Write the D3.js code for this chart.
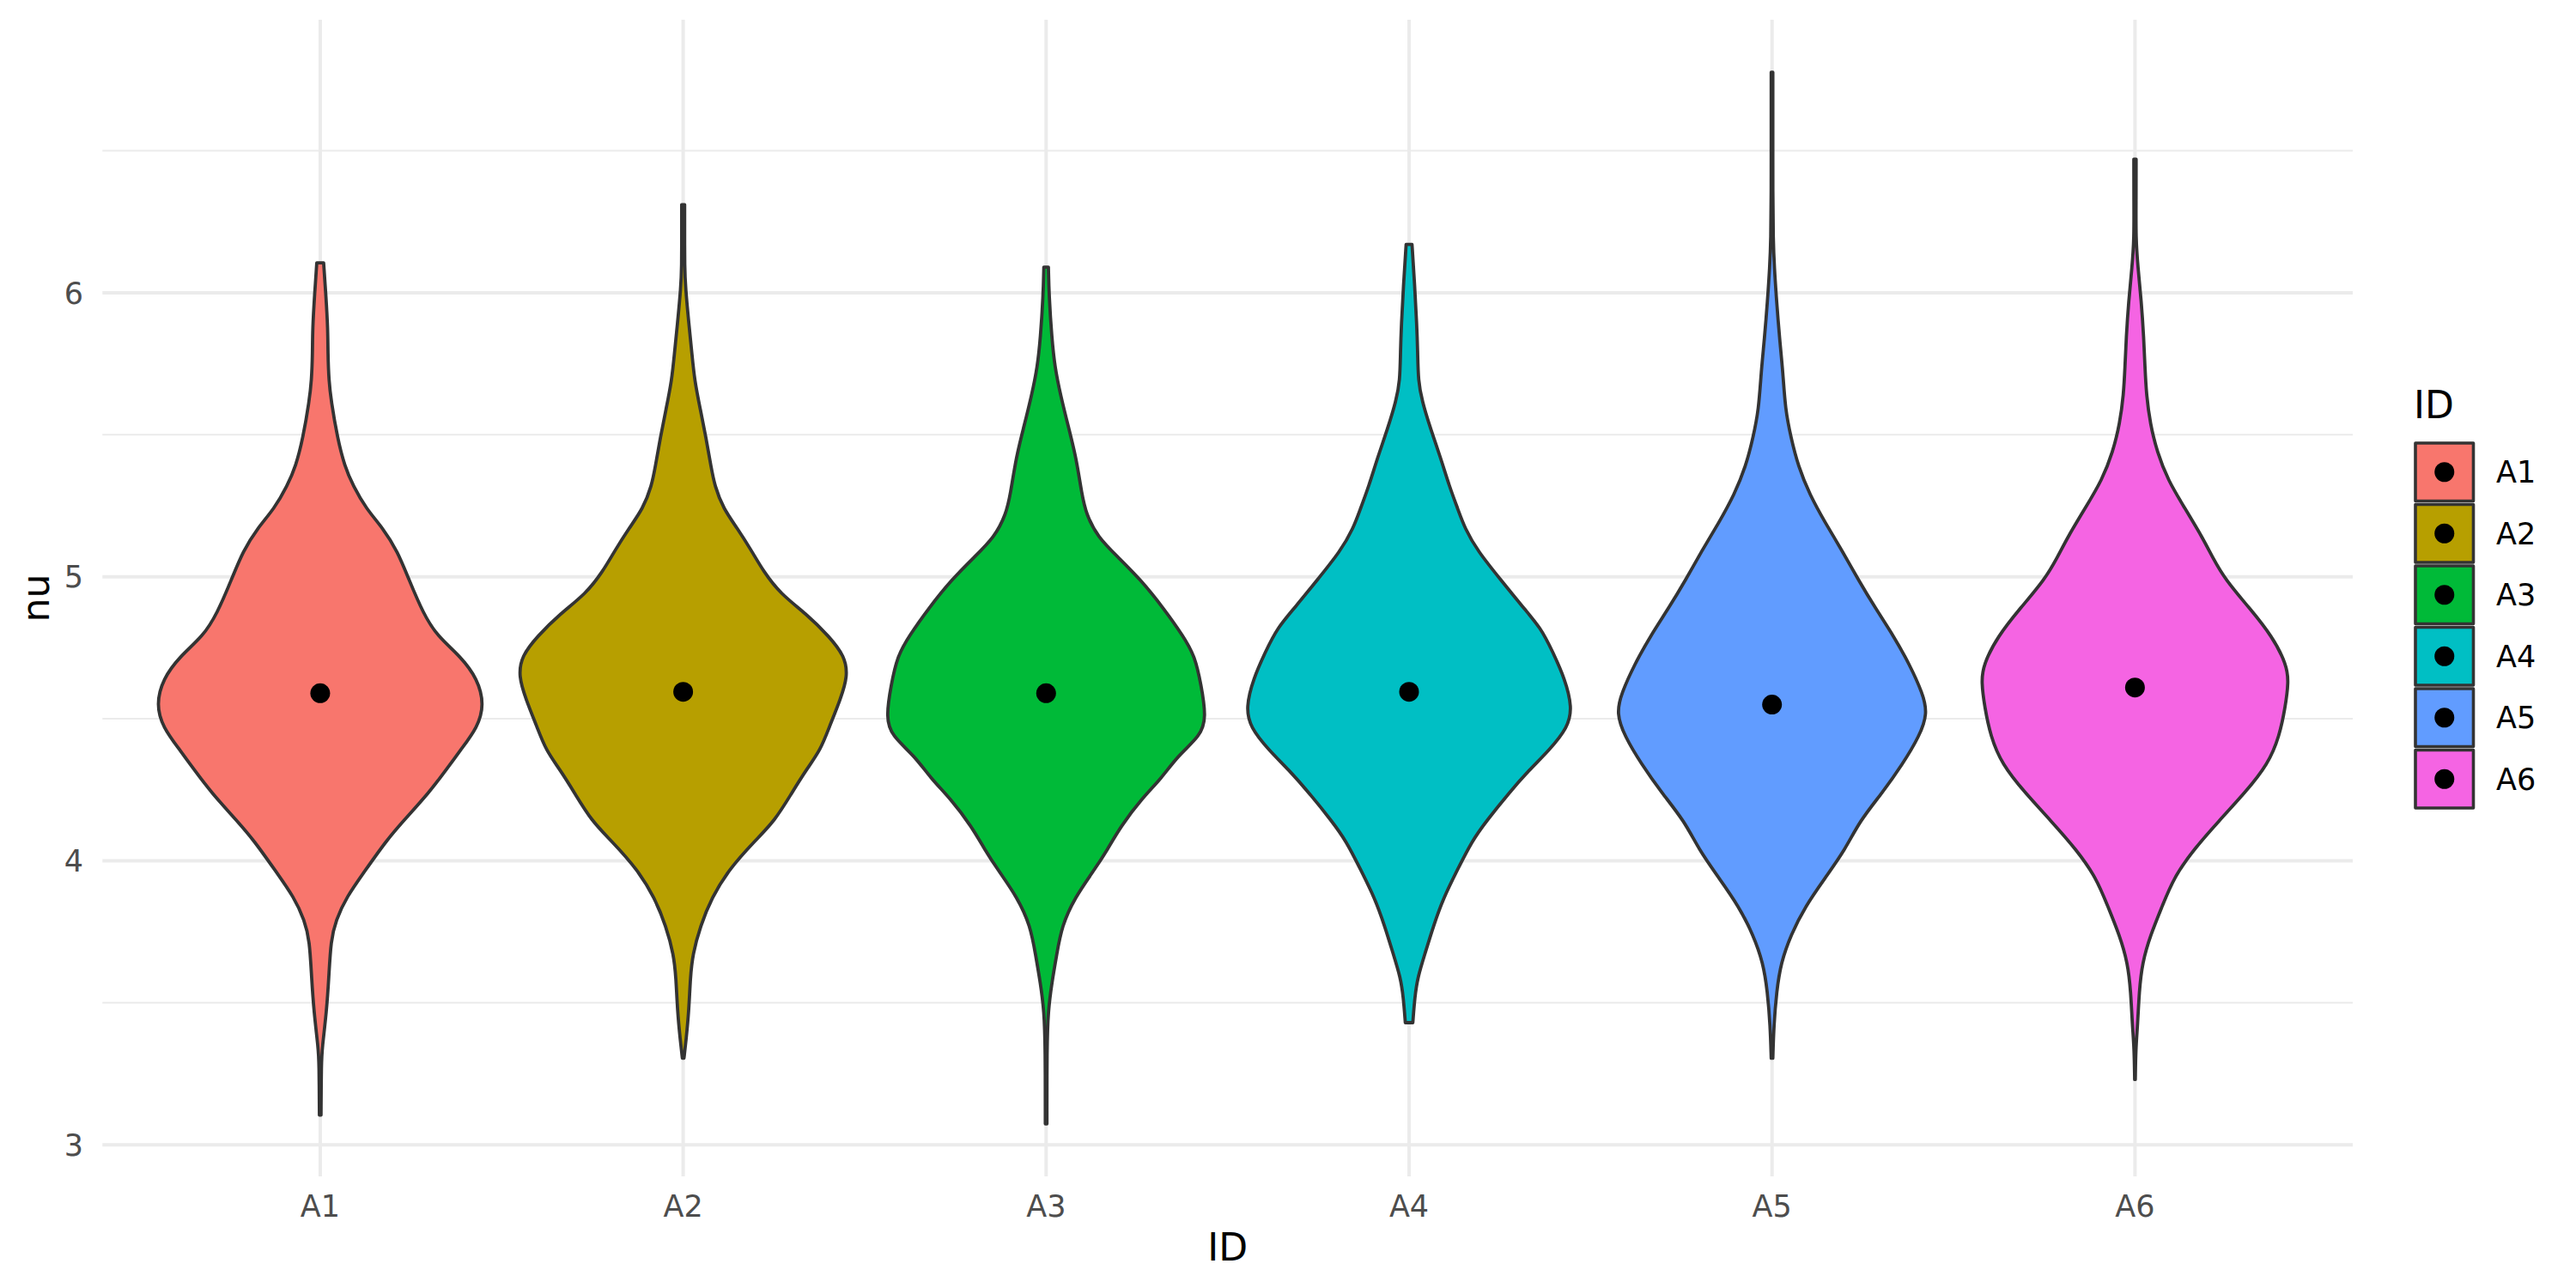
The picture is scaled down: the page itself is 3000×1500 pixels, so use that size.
<!DOCTYPE html>
<html><head><meta charset="utf-8">
<script src="https://cdn.jsdelivr.net/npm/d3@7"></script>
<style>html,body{margin:0;padding:0;background:#fff;}svg{display:block;font-family:"DejaVu Sans",sans-serif;}</style>
</head><body>
<svg id="chart" width="3000" height="1500"></svg>
<script>
// ---- data ----
const categories = ["A1","A2","A3","A4","A5","A6"];
const fills = ["#F8766D","#B79F00","#00BA38","#00BFC4","#619CFF","#F564E3"];
const means = [4.59, 4.595, 4.59, 4.595, 4.55, 4.61];
const yTicks = [3,4,5,6];
const yMinor = [3.5,4.5,5.5,6.5];

const nuA1 = [6.105,5.99,5.87,5.79,5.69,5.62,5.49,5.39,5.32,5.24,5.17,5.09,4.99,4.87,4.79,4.72,4.64,4.55,4.47,4.39,4.32,4.24,4.14,4.07,3.97,3.87,3.79,3.72,3.59,3.47,3.34,3.29,3.105];
const densA1 = [0.021,0.035,0.047,0.047,0.053,0.067,0.105,0.149,0.202,0.281,0.386,0.474,0.544,0.632,0.719,0.860,0.965,1.005,0.965,0.860,0.772,0.667,0.509,0.404,0.281,0.158,0.096,0.065,0.053,0.039,0.012,0.007,0.005];
const nuA2 = [6.31,6.22,6.09,6.02,5.89,5.79,5.69,5.59,5.49,5.39,5.32,5.24,5.17,5.09,5.02,4.94,4.87,4.79,4.72,4.65,4.57,4.47,4.39,4.32,4.24,4.14,4.07,3.97,3.87,3.77,3.67,3.59,3.47,3.37,3.305];
const densA2 = [0.009,0.009,0.009,0.014,0.035,0.053,0.070,0.105,0.140,0.170,0.193,0.246,0.333,0.421,0.491,0.596,0.754,0.895,0.991,1.009,0.965,0.895,0.842,0.754,0.667,0.561,0.439,0.281,0.175,0.105,0.058,0.044,0.035,0.018,0.005];
const nuA3 = [6.09,5.99,5.84,5.74,5.64,5.52,5.42,5.29,5.22,5.14,5.07,4.99,4.89,4.79,4.72,4.62,4.505,4.44,4.37,4.29,4.22,4.12,4.04,3.97,3.87,3.77,3.67,3.57,3.47,3.34,3.074];
const densA3 = [0.014,0.018,0.035,0.053,0.088,0.140,0.184,0.219,0.246,0.316,0.439,0.579,0.719,0.842,0.912,0.950,0.982,0.947,0.807,0.707,0.588,0.456,0.377,0.298,0.175,0.096,0.065,0.035,0.012,0.005,0.005];
const nuA4 = [6.17,6.02,5.89,5.79,5.69,5.62,5.52,5.42,5.32,5.24,5.17,5.09,4.99,4.89,4.82,4.74,4.64,4.54,4.47,4.39,4.32,4.24,4.14,4.07,3.97,3.87,3.77,3.67,3.59,3.52,3.43];
const densA4 = [0.018,0.035,0.047,0.053,0.056,0.079,0.132,0.193,0.246,0.298,0.342,0.421,0.561,0.702,0.807,0.877,0.956,1.0,0.974,0.860,0.737,0.614,0.474,0.386,0.298,0.211,0.149,0.096,0.053,0.035,0.023];
const nuA5 = [6.776,6.59,6.34,6.19,6.09,5.97,5.84,5.72,5.59,5.49,5.39,5.29,5.19,5.09,4.99,4.89,4.79,4.69,4.59,4.52,4.44,4.34,4.24,4.14,4.04,3.94,3.84,3.74,3.64,3.54,3.42,3.305];
const densA5 = [0.005,0.005,0.005,0.007,0.014,0.028,0.046,0.067,0.081,0.116,0.160,0.230,0.326,0.432,0.528,0.633,0.747,0.844,0.923,0.954,0.905,0.800,0.677,0.537,0.449,0.326,0.204,0.116,0.054,0.028,0.011,0.005];
const nuA6 = [6.47,6.34,6.19,6.09,5.97,5.84,5.74,5.64,5.54,5.44,5.34,5.24,5.14,5.07,4.99,4.89,4.79,4.69,4.63,4.54,4.44,4.34,4.24,4.14,4.04,3.94,3.84,3.74,3.64,3.54,3.42,3.34,3.23];
const densA6 = [0.007,0.007,0.005,0.018,0.039,0.054,0.061,0.070,0.093,0.135,0.202,0.307,0.412,0.474,0.553,0.702,0.842,0.930,0.942,0.921,0.886,0.816,0.675,0.514,0.360,0.237,0.167,0.096,0.044,0.026,0.016,0.005,0.002];

const nuList = [nuA1,nuA2,nuA3,nuA4,nuA5,nuA6];
const densList = [densA1,densA2,densA3,densA4,densA5,densA6];

// ---- layout ----
const panel = {left:119.3, right:2740, top:23, bottom:1370};
const svg = d3.select("#chart");
svg.append("rect").attr("width",3000).attr("height",1500).attr("fill","#fff");

const allNu = nuList.flat();
const [lo, hi] = d3.extent(allNu);
const pad = (hi - lo) * 0.05;
const y = d3.scaleLinear().domain([lo - pad, hi + pad]).range([panel.bottom, panel.top]);
const x = d3.scalePoint().domain(categories).range([panel.left, panel.right]).padding(0.6);
const w = d3.scaleLinear().domain([0,1]).range([0, 0.4495 * x.step()]);
const color = d3.scaleOrdinal().domain(categories).range(fills);

// grid
const grid = svg.append("g");
grid.selectAll("line.minor").data(yMinor).join("line")
  .attr("x1",panel.left).attr("x2",panel.right)
  .attr("y1",d=>y(d)).attr("y2",d=>y(d))
  .attr("stroke","#EBEBEB").attr("stroke-width",2);
grid.selectAll("line.major").data(yTicks).join("line")
  .attr("x1",panel.left).attr("x2",panel.right)
  .attr("y1",d=>y(d)).attr("y2",d=>y(d))
  .attr("stroke","#EBEBEB").attr("stroke-width",4);
grid.selectAll("line.vx").data(categories).join("line")
  .attr("x1",d=>x(d)).attr("x2",d=>x(d))
  .attr("y1",panel.top).attr("y2",panel.bottom)
  .attr("stroke","#EBEBEB").attr("stroke-width",4);

// violins
categories.forEach((c,i)=>{
  const pts = nuList[i].map((v,j)=>({nu:v, d:densList[i][j]}));
  const area = d3.area()
    .y(p=>y(p.nu))
    .x0(p=>x(c) - w(p.d))
    .x1(p=>x(c) + w(p.d))
    .curve(d3.curveBasis);
  svg.append("path").datum(pts).attr("d",area)
    .attr("fill",color(c)).attr("stroke","#333333").attr("stroke-width",3.8)
    .attr("stroke-linejoin","round");
});

// mean points
svg.selectAll("circle.mean").data(categories).join("circle")
  .attr("cx",d=>x(d)).attr("cy",(d,i)=>y(means[i])).attr("r",11.5).attr("fill","#000");

// axis tick labels
svg.selectAll("text.yt").data(yTicks).join("text")
  .attr("x",97).attr("y",d=>y(d)).attr("dy","0.36em")
  .attr("text-anchor","end").attr("font-size",35).attr("fill","#4D4D4D").text(d=>d);
svg.selectAll("text.xt").data(categories).join("text")
  .attr("x",d=>x(d)).attr("y",1417)
  .attr("text-anchor","middle").attr("font-size",35).attr("fill","#4D4D4D").text(d=>d);

// axis titles
svg.append("text").attr("x",(panel.left+panel.right)/2).attr("y",1468)
  .attr("text-anchor","middle").attr("font-size",44).attr("fill","#000").text("ID");
svg.append("text").attr("transform",`translate(57,${(panel.top+panel.bottom)/2}) rotate(-90)`)
  .attr("text-anchor","middle").attr("font-size",44).attr("fill","#000").text("nu");

// legend
const lg = svg.append("g").attr("transform","translate(2811,0)");
lg.append("text").attr("x",0).attr("y",487).attr("font-size",44).attr("fill","#000").text("ID");
const keyTop = 514, keyH = 71.5, keyW = 71.5;
const keys = lg.selectAll("g.key").data(categories).join("g")
  .attr("transform",(d,i)=>`translate(0,${keyTop + i*keyH})`);
keys.append("rect").attr("x",2).attr("y",2).attr("width",keyW-4).attr("height",keyH-4)
  .attr("fill",d=>color(d)).attr("stroke","#333333").attr("stroke-width",3.6).attr("stroke-linejoin","round");
keys.append("circle").attr("cx",keyW/2).attr("cy",keyH/2).attr("r",11.5).attr("fill","#000");
keys.append("text").attr("x",96).attr("y",keyH/2).attr("dy","0.36em")
  .attr("font-size",35).attr("fill","#000").text(d=>d);
</script>
</body></html>
